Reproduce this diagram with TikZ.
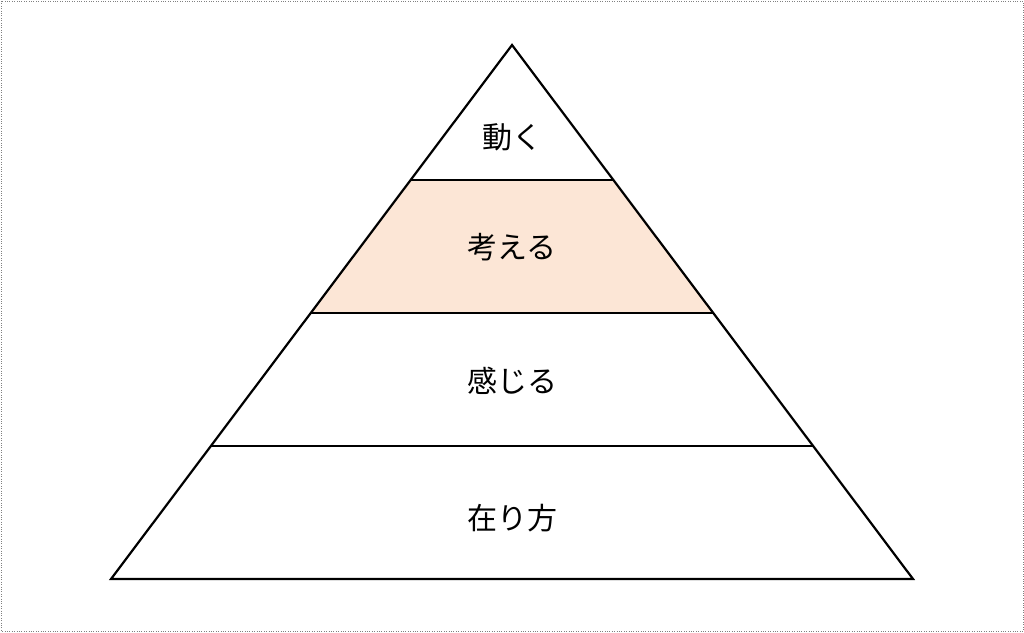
\documentclass[tikz,border=0pt]{standalone}
\usepackage{fontspec}
\newfontfamily\cjk{Noto Sans CJK JP}
\begin{document}
\begin{tikzpicture}[x=1pt,y=-1pt,
  lbl/.style={font=\cjk\fontsize{30}{36}\selectfont, inner sep=0pt},
  edge/.style={line width=2.2pt, line join=miter}]
\useasboundingbox (0,0) rectangle (1024,632);
\draw[dotted, gray] (1,1) rectangle (1023,631);
\coordinate (apex) at (512,45);
\coordinate (bl) at (111,579);
\coordinate (br) at (913,579);
\coordinate (l1) at (410.7,180); \coordinate (r1) at (613.3,180);
\coordinate (l2) at (310.8,313); \coordinate (r2) at (713.2,313);
\coordinate (l3) at (210.9,446); \coordinate (r3) at (813.1,446);
\fill[fill={rgb,255:red,252;green,230;blue,214}] (l1) -- (r1) -- (r2) -- (l2) -- cycle;
\draw[edge] (apex) -- (br) -- (bl) -- cycle;
\draw[edge] (l1) -- (r1);
\draw[edge] (l2) -- (r2);
\draw[edge] (l3) -- (r3);
\node[lbl] (t1) at (512,137) {動く};
\node[lbl] (t2) at (512,247) {考える};
\node[lbl] (t3) at (512,381) {感じる};
\node[lbl] (t4) at (512,518) {在り方};
\end{tikzpicture}
\end{document}
